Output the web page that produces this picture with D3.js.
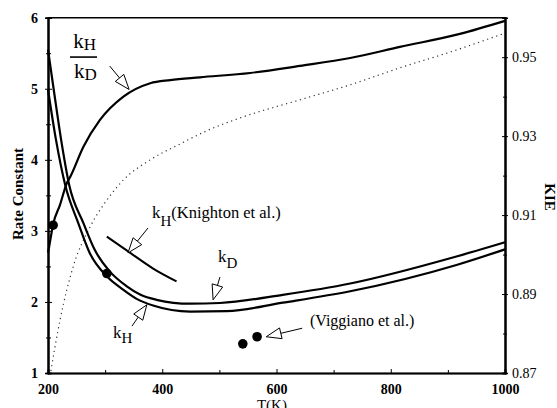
<!DOCTYPE html>
<html lang="en">
<head>
<meta charset="UTF-8">
<title>Rate constant and KIE versus T</title>
<script src="https://cdn.jsdelivr.net/npm/d3@7"></script>
<style>
  body { margin: 0; background: #fff; }
  text { font-family: "Liberation Serif", "DejaVu Serif", serif; fill: #000; }
</style>
</head>
<body>
<script>

// k_D and k_H calculated rate constants (left axis)
var tempKD = [200, 210, 223, 237, 262, 282, 308, 338, 362, 390, 449, 501, 611, 729, 915, 1000];
var rateKD = [5.55, 4.99, 4.28, 3.65, 3.11, 2.73, 2.43, 2.22, 2.10, 2.03, 1.975, 1.985, 2.10, 2.26, 2.64, 2.84];
var tempKH = [200, 214, 230, 253, 273, 303, 332, 356, 384, 449, 513, 611, 729, 915, 1000];
var rateKH = [4.99, 4.28, 3.65, 3.11, 2.69, 2.36, 2.17, 2.04, 1.95, 1.865, 1.87, 1.99, 2.15, 2.52, 2.74];

// Knighton et al. k_H
var tempKnighton = [303, 344, 384, 425];
var rateKnighton = [2.92, 2.69, 2.47, 2.29];

// measured points
var tempPoints = [209, 303];
var ratePoints = [3.08, 2.40];
var tempViggiano = [541, 566];
var rateViggiano = [1.41, 1.51];

// kH/kD ratio, solid and dotted (right axis)
var tempRatio = [200, 202, 209, 221, 233, 239, 262, 291, 332, 379, 414, 466, 554, 641, 729, 816, 921, 1000];
var kieRatio = [0.9005, 0.9020, 0.9077, 0.9126, 0.9181, 0.9197, 0.9273, 0.9341, 0.9400, 0.9434, 0.9442, 0.9449, 0.9460, 0.9478, 0.9498, 0.9526, 0.9559, 0.9592];
var tempDotted = [205, 221, 244, 274, 303, 332, 379, 431, 477, 536, 641, 729, 816, 904, 1000];
var kieDotted = [0.8705, 0.8834, 0.8969, 0.9071, 0.9138, 0.9189, 0.9240, 0.9280, 0.9313, 0.9346, 0.9392, 0.9430, 0.9473, 0.9513, 0.9561];

// ticks
var xTicks = [200, 400, 600, 800, 1000];
var xMinor = [300, 500, 700, 900];
var leftTicks = [1, 2, 3, 4, 5, 6];
var leftMinor = [1.5, 2.5, 3.5, 4.5, 5.5];
var rightTicks = [0.87, 0.89, 0.91, 0.93, 0.95];
var rightMinor = [0.88, 0.90, 0.92, 0.94];

var width = 557, height = 408;
var plotL = 48, plotR = 505, plotT = 17.7, plotB = 373;

var svg = d3.select("body").append("svg")
            .attr("width", width)
            .attr("height", height);

var x = d3.scaleLinear().domain([200, 1000]).range([plotL, plotR]);
var yL = d3.scaleLinear().domain([1, 6]).range([plotB, plotT]);
var yR = d3.scaleLinear().domain([0.87, 0.96]).range([plotB, plotT]);

var zip = function(a, b) { return a.map(function(d, i) { return [d, b[i]]; }); };

// frame top
svg.append("line")
   .attr("x1", plotL).attr("x2", plotR)
   .attr("y1", plotT).attr("y2", plotT)
   .attr("stroke", "#000").attr("stroke-width", 1.6);

// each axis call gets its own group, otherwise the ticks get replaced
var axisG = function(tx, ty, ax) {
  return svg.append("g").attr("transform", "translate(" + tx + "," + ty + ")").call(ax);
};

axisG(plotL, 0, d3.axisLeft(yL).tickValues(leftTicks).tickSize(-4).tickFormat(""));
axisG(plotL, 0, d3.axisLeft(yL).tickValues(leftMinor).tickSize(-3).tickFormat(""));
axisG(plotL, 0, d3.axisLeft(yL).tickValues(leftMinor).tickSize(2).tickFormat(""));
axisG(plotL, 0, d3.axisLeft(yL).tickValues(leftTicks).tickSize(3).tickPadding(7).tickFormat(d3.format("d")))
  .selectAll("text").attr("font-size", 14).attr("font-weight", "bold")
  .attr("font-family", "Liberation Serif");

axisG(plotR, 0, d3.axisRight(yR).tickValues(rightTicks).tickSize(-3).tickFormat(""));
axisG(plotR, 0, d3.axisRight(yR).tickValues(rightMinor).tickSize(-2).tickFormat(""));
axisG(plotR, 0, d3.axisRight(yR).tickValues(rightMinor).tickSize(2).tickFormat(""));
axisG(plotR, 0, d3.axisRight(yR).tickValues(rightTicks).tickSize(3).tickPadding(4).tickFormat(d3.format(".2f")))
  .selectAll("text").attr("font-size", 14).attr("font-family", "Liberation Serif");

axisG(0, plotB, d3.axisBottom(x).tickValues(xMinor).tickSize(-3).tickFormat(""));
axisG(0, plotB, d3.axisBottom(x).tickValues(xTicks).tickSize(-4).tickFormat(""));
axisG(0, plotB, d3.axisBottom(x).tickValues(xTicks).tickSize(0).tickPadding(11).tickFormat(d3.format("d")))
  .selectAll("text").attr("font-size", 14).attr("font-weight", "bold")
  .attr("font-family", "Liberation Serif");

svg.selectAll(".domain").attr("stroke-width", 1.6);

// curves
var lineL = d3.line().x(function(d) { return x(d[0]); }).y(function(d) { return yL(d[1]); })
              .curve(d3.curveMonotoneX);
var lineR = d3.line().x(function(d) { return x(d[0]); }).y(function(d) { return yR(d[1]); })
              .curve(d3.curveMonotoneX);

svg.append("path").datum(zip(tempDotted, kieDotted))
   .attr("d", lineR).attr("fill", "none")
   .attr("stroke", "#333").attr("stroke-width", 1.2)
   .attr("stroke-dasharray", "1.2,3.6");

svg.append("path").datum(zip(tempRatio, kieRatio))
   .attr("d", lineR).attr("fill", "none")
   .attr("stroke", "#000").attr("stroke-width", 2.2);

svg.append("path").datum(zip(tempKD, rateKD))
   .attr("d", lineL).attr("fill", "none")
   .attr("stroke", "#000").attr("stroke-width", 2.2);

svg.append("path").datum(zip(tempKH, rateKH))
   .attr("d", lineL).attr("fill", "none")
   .attr("stroke", "#000").attr("stroke-width", 2.2);

svg.append("path").datum(zip(tempKnighton, rateKnighton))
   .attr("d", lineL).attr("fill", "none")
   .attr("stroke", "#000").attr("stroke-width", 2);

svg.selectAll("circle.pt")
   .data(zip(tempPoints, ratePoints).concat(zip(tempViggiano, rateViggiano)))
   .enter().append("circle")
   .attr("class", "pt")
   .attr("cx", function(d) { return x(d[0]); })
   .attr("cy", function(d) { return yL(d[1]); })
   .attr("r", 4.8)
   .attr("fill", "#000");

// arrows with hollow heads, tail and tip in data units (left axis)
var arrow = function(t0, v0, t1, v1) {
  var x0 = x(t0), y0 = yL(v0), x1 = x(t1), y1 = yL(v1);
  var dx = x1 - x0, dy = y1 - y0, len = Math.sqrt(dx * dx + dy * dy);
  var ux = dx / len, uy = dy / len;
  var hl = 15, hw = 5.5;
  var bx = x1 - ux * hl, by = y1 - uy * hl;
  svg.append("line")
     .attr("x1", x0).attr("y1", y0).attr("x2", bx).attr("y2", by)
     .attr("stroke", "#000").attr("stroke-width", 1);
  svg.append("polygon")
     .attr("points", [[x1, y1], [bx - uy * hw, by + ux * hw], [bx + uy * hw, by - ux * hw]]
       .map(function(p) { return p.join(","); }).join(" "))
     .attr("fill", "#fff").attr("stroke", "#000").attr("stroke-width", 1);
};

arrow(308, 5.32, 342, 4.99);
arrow(375, 3.04, 340, 2.69);
arrow(501, 2.35, 489, 2.03);
arrow(347, 1.66, 373, 1.96);
arrow(645, 1.63, 582, 1.51);

// labels
var sub = function(t, v, main, s, size, subSize, shift) {
  var tx = svg.append("text").attr("x", x(t)).attr("y", yL(v)).attr("font-size", size);
  tx.append("tspan").text(main);
  tx.append("tspan").attr("font-size", subSize).attr("dy", shift).text(s);
  return tx;
};

sub(244, 5.574, "k", "H", 21, 17, 2);
svg.append("line")
   .attr("x1", x(238.5)).attr("x2", x(285.8))
   .attr("y1", yL(5.446)).attr("y2", yL(5.446))
   .attr("stroke", "#000").attr("stroke-width", 1.6);
sub(245.5, 5.152, "k", "D", 21, 17, 2);

var kn = sub(382, 3.181, "k", "H", 17, 15, 8);
kn.append("tspan").attr("dy", -8).attr("font-size", 16.5).text("(Knighton et al.)");

sub(497.6, 2.562, "k", "D", 17, 15, 6);
sub(313.8, 1.493, "k", "H", 17, 15, 5);

svg.append("text").attr("x", x(658.6)).attr("y", yL(1.661))
   .attr("font-size", 16).text("(Viggiano et al.)");

// axis titles
svg.append("text")
   .attr("transform", "translate(23,194) rotate(-90)")
   .attr("text-anchor", "middle")
   .attr("font-size", 15).attr("font-weight", "bold")
   .text("Rate Constant");

svg.append("text")
   .attr("transform", "translate(545,197) rotate(90)")
   .attr("text-anchor", "middle")
   .attr("font-size", 15).attr("font-weight", "bold")
   .text("KIE");

svg.append("text")
   .attr("x", x(592)).attr("y", 410)
   .attr("text-anchor", "middle")
   .attr("font-size", 15)
   .text("T(K)");

</script>
</body>
</html>
